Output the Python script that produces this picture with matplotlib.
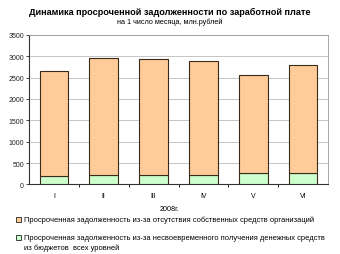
import matplotlib
matplotlib.use("Agg")
import matplotlib.pyplot as plt
from matplotlib.patches import Rectangle

months = ["I", "II", "III", "IV", "V", "VI"]
budget_debt = [195, 220, 230, 225, 258, 258]
total_debt = [2650, 2955, 2930, 2880, 2555, 2790]
own_debt = [t - b for t, b in zip(total_debt, budget_debt)]

title = "Динамика просроченной задолженности по заработной плате"
subtitle = "на 1 число месяца, млн.рублей"
xlabel = "2008г."
legend_labels = [
    "Просроченная задолженность из-за отсутствия собственных средств организаций",
    "Просроченная задолженность из-за несвоевременного получения денежных средств\nиз бюджетов  всех уровней",
]

plt.rcParams["font.family"] = ["Liberation Sans", "DejaVu Sans"]
fig = plt.figure(figsize=(3.4, 2.55), dpi=100)
ax = fig.add_axes([0.085, 0.273, 0.88, 0.586])

orange = "#FFCC99"
green = "#CCFFCC"
edge = "#3a2a1a"
x = list(range(len(months)))
ax.bar(x, budget_debt, width=0.57, color=green, edgecolor=edge, linewidth=0.8, zorder=3)
ax.bar(x, own_debt, bottom=budget_debt, width=0.57, color=orange, edgecolor=edge, linewidth=0.8, zorder=3)

ax.set_xlim(-0.5, len(months) - 0.5)
ax.set_ylim(0, 3500)
ax.set_yticks(range(0, 3501, 500))
ax.yaxis.grid(True, color="#bbbbbb", linewidth=0.6, zorder=0)
ax.tick_params(axis="y", labelsize=5, length=2, width=0.6, pad=1.5, colors="#222222")
ax.set_xticks(x)
ax.set_xticklabels(months, fontsize=5)
ax.set_xticks([i + 0.5 for i in x[:-1]], minor=True)
ax.tick_params(axis="x", which="major", length=0, pad=5.5)
ax.tick_params(axis="x", which="minor", length=2, width=0.6)
for s in ["left", "bottom"]:
    ax.spines[s].set_color("#333333")
    ax.spines[s].set_linewidth(0.8)
for s in ["top", "right"]:
    ax.spines[s].set_color("#999999")
    ax.spines[s].set_linewidth(0.6)

fig.text(0.5, 0.952, title, ha="center", va="center", fontsize=6.6, fontweight="bold")
fig.text(0.5, 0.912, subtitle, ha="center", va="center", fontsize=5.2)
fig.text(0.5, 0.18, xlabel, ha="center", va="center", fontsize=5.2)

colors = [orange, green]
ys = [0.137, 0.067]
for c, yy in zip(colors, ys):
    fig.patches.append(Rectangle((0.047, yy - 0.011), 0.014, 0.019, transform=fig.transFigure,
                                 facecolor=c, edgecolor="#222222", linewidth=0.6))

fig.text(0.07, ys[0], legend_labels[0], ha="left", va="center", fontsize=5.4)
fig.text(0.07, ys[1] + 0.013, legend_labels[1], ha="left", va="top", fontsize=5.4, linespacing=1.6)

fig.savefig("out.png", dpi=100)
